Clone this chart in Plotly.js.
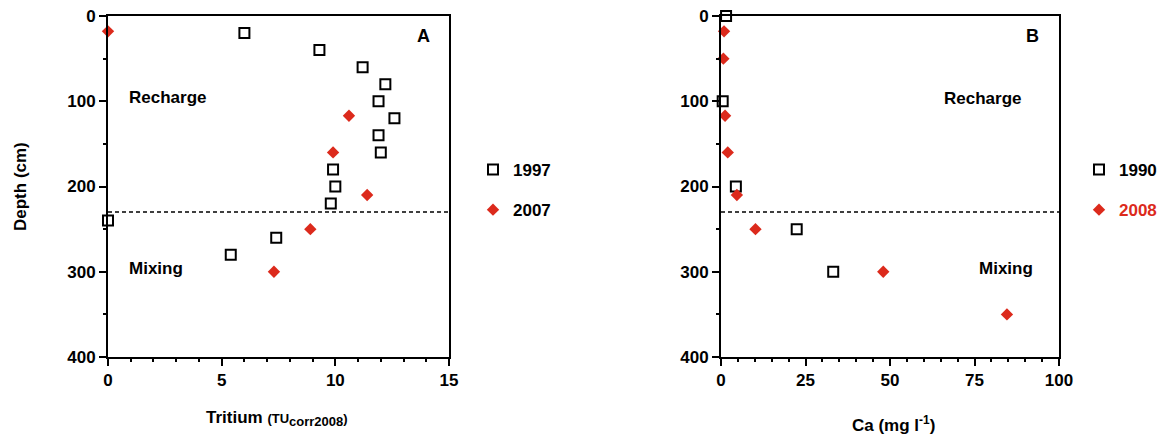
<!DOCTYPE html>
<html>
<head>
<meta charset="utf-8">
<script src="https://cdn.plot.ly/plotly-3.0.1.min.js"></script>
<style>html,body{margin:0;padding:0;background:#fff;}#chart{width:1167px;height:439px;}</style>
</head>
<body>
<div id="chart"></div>
<script>
// Panel A: Tritium profiles
const tritium1997 = [6.0, 9.3, 11.2, 12.2, 11.9, 12.6, 11.9, 12.0, 9.9, 10.0, 9.8, 0.0, 7.4, 5.4];
const depth1997   = [20, 40, 60, 80, 100, 120, 140, 160, 180, 200, 220, 240, 260, 280];
const tritium2007 = [0.0, 10.6, 9.9, 11.4, 8.9, 7.3];
const depth2007   = [18, 117, 160, 210, 250, 300];
// Panel B: Ca profiles
const ca1990    = [1.5, 0.5, 4.4, 22.4, 33.2];
const depth1990 = [0, 100, 200, 250, 300];
const ca2008    = [0.9, 0.7, 1.2, 2.0, 4.7, 10.2, 48.0, 84.6];
const depth2008 = [18, 50, 117, 160, 210, 250, 300, 350];
// Boundary between recharge and mixing zones
const boundaryDepth = 230;
const xRangeA = [0, 15];
const xRangeB = [0, 100];

const RED = '#dc2a1c';
const FONT = 'Liberation Sans, Arial, Helvetica, sans-serif';
const W = 1167, H = 439;
const px = v => v / W, py = v => 1 - v / H;

const sq = {symbol: 'square-open', size: 10, color: '#000', line: {width: 2, color: '#000'}};
const dm = {symbol: 'diamond', size: 9.5, color: RED, line: {width: 0}};

const traces = [
  {x: tritium1997, y: depth1997, type: 'scatter', mode: 'markers', name: '1997', marker: sq,
   xaxis: 'x', yaxis: 'y', legend: 'legend', legendgroup: 'a1', cliponaxis: false},
  {x: tritium2007, y: depth2007, type: 'scatter', mode: 'markers', name: '2007', marker: dm,
   xaxis: 'x', yaxis: 'y', legend: 'legend', legendgroup: 'a2', cliponaxis: false},
  {x: ca1990, y: depth1990, type: 'scatter', mode: 'markers', name: '1990', marker: sq,
   xaxis: 'x2', yaxis: 'y2', legend: 'legend2', legendgroup: 'b1', cliponaxis: false},
  {x: ca2008, y: depth2008, type: 'scatter', mode: 'markers',
   name: '<span style="color:' + RED + '">2008</span>', marker: dm,
   xaxis: 'x2', yaxis: 'y2', legend: 'legend2', legendgroup: 'b2', cliponaxis: false}
];

const axisCommon = {
  showline: true, linecolor: '#000', linewidth: 2, mirror: true,
  ticks: 'outside', ticklen: 7, tickwidth: 2, tickcolor: '#000',
  showgrid: false, zeroline: false, automargin: false,
  tickfont: {family: FONT, size: 17, color: '#000', weight: 'bold'}
};
const minorTicks = d => ({dtick: d, ticks: 'outside', ticklen: 3, tickwidth: 2, tickcolor: '#000'});

const f = (size) => ({family: FONT, size: size, color: '#000', weight: 'bold'});

const layout = {
  width: W, height: H,
  margin: {l: 0, r: 0, t: 0, b: 0},
  paper_bgcolor: '#fff', plot_bgcolor: '#fff',
  font: {family: FONT, color: '#000'},
  showlegend: true,
  xaxis: Object.assign({}, axisCommon, {domain: [px(108), px(449)], range: xRangeA, dtick: 5, tick0: 0,
    minor: minorTicks(1), anchor: 'y'}),
  yaxis: Object.assign({}, axisCommon, {domain: [py(357), py(16)], range: [400, 0], dtick: 100, tick0: 0,
    minor: minorTicks(50), anchor: 'x'}),
  xaxis2: Object.assign({}, axisCommon, {domain: [px(721), px(1059)], range: xRangeB, dtick: 25, tick0: 0,
    minor: minorTicks(5), anchor: 'y2'}),
  yaxis2: Object.assign({}, axisCommon, {domain: [py(357), py(16)], range: [400, 0], dtick: 100, tick0: 0,
    minor: minorTicks(50), anchor: 'x2'}),
  legend: {x: px(473), y: py(152), xanchor: 'left', yanchor: 'top', bgcolor: 'rgba(0,0,0,0)',
    font: f(17), tracegroupgap: 15},
  legend2: {x: px(1079), y: py(152), xanchor: 'left', yanchor: 'top', bgcolor: 'rgba(0,0,0,0)',
    font: f(17), tracegroupgap: 15},
  shapes: [
    {type: 'line', xref: 'x', yref: 'y', x0: xRangeA[0], x1: xRangeA[1], y0: boundaryDepth, y1: boundaryDepth,
     line: {color: '#000', width: 1.5, dash: '4px,3px'}},
    {type: 'line', xref: 'x2', yref: 'y2', x0: xRangeB[0], x1: xRangeB[1], y0: boundaryDepth, y1: boundaryDepth,
     line: {color: '#000', width: 1.5, dash: '4px,3px'}}
  ],
  annotations: [
    {xref: 'x', yref: 'y', x: 0.85, y: 96, text: 'Recharge', showarrow: false, xanchor: 'left', yanchor: 'middle', font: f(17)},
    {xref: 'x', yref: 'y', x: 0.85, y: 296, text: 'Mixing', showarrow: false, xanchor: 'left', yanchor: 'middle', font: f(17)},
    {xref: 'x', yref: 'y', x: 13.86, y: 24, text: 'A', showarrow: false, xanchor: 'center', yanchor: 'middle', font: f(18)},
    {xref: 'x2', yref: 'y2', x: 65.4, y: 97, text: 'Recharge', showarrow: false, xanchor: 'left', yanchor: 'middle', font: f(17)},
    {xref: 'x2', yref: 'y2', x: 75.7, y: 296, text: 'Mixing', showarrow: false, xanchor: 'left', yanchor: 'middle', font: f(17)},
    {xref: 'x2', yref: 'y2', x: 92.3, y: 24, text: 'B', showarrow: false, xanchor: 'center', yanchor: 'middle', font: f(18)},
    {xref: 'paper', yref: 'paper', x: px(20), y: py(187), text: 'Depth (cm)', textangle: -90, showarrow: false,
     xanchor: 'center', yanchor: 'middle', font: f(17)},
    {xref: 'paper', yref: 'paper', x: px(277), y: py(418),
     text: 'Tritium <span style="font-size:13px">(TU<sub><span style="font-size:13px">corr2008</span></sub>)</span>',
     showarrow: false, xanchor: 'center', yanchor: 'middle', font: f(17)},
    {xref: 'paper', yref: 'paper', x: px(893), y: py(424), text: 'Ca (mg l<sup>-1</sup>)', showarrow: false,
     xanchor: 'center', yanchor: 'middle', font: f(17)}
  ]
};

Plotly.newPlot('chart', traces, layout, {staticPlot: true, displayModeBar: false});
</script>
</body>
</html>
